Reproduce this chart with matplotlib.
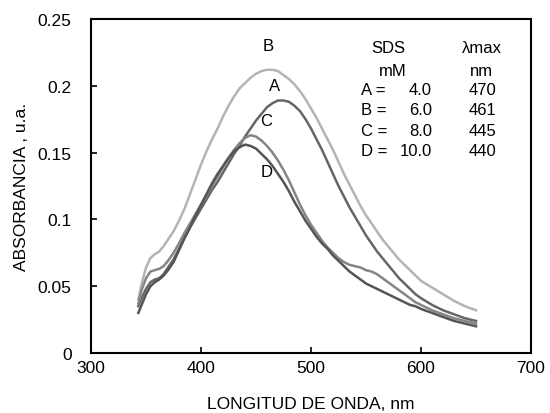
import matplotlib
matplotlib.use("Agg")
import matplotlib.pyplot as plt

plt.rcParams['font.family'] = ['Liberation Sans', 'DejaVu Sans']

# wavelength grid (nm) shared by all spectra
wl = [343, 346, 350, 354, 358, 362, 366, 370, 375, 380, 385, 390, 395, 400,
      405, 410, 415, 420, 425, 430, 435, 440, 445, 450, 455, 460, 465, 470,
      475, 480, 485, 490, 495, 500, 505, 510, 515, 520, 525, 530, 535, 540,
      545, 550, 555, 560, 565, 570, 575, 580, 585, 590, 595, 600, 610, 620,
      630, 640, 650]

abs_A = [0.035, 0.041, 0.048, 0.053, 0.055, 0.056, 0.059, 0.064, 0.070, 0.078,
         0.086, 0.094, 0.101, 0.108, 0.115, 0.122, 0.128, 0.135, 0.142, 0.149,
         0.155, 0.162, 0.168, 0.174, 0.179, 0.184, 0.187, 0.189, 0.189, 0.188,
         0.185, 0.181, 0.175, 0.168, 0.160, 0.152, 0.143, 0.134, 0.125, 0.117,
         0.109, 0.102, 0.095, 0.088, 0.082, 0.076, 0.071, 0.066, 0.061, 0.056,
         0.052, 0.048, 0.044, 0.041, 0.036, 0.032, 0.029, 0.026, 0.024]
abs_B = [0.040, 0.052, 0.064, 0.071, 0.074, 0.076, 0.080, 0.085, 0.091, 0.099,
         0.108, 0.119, 0.130, 0.141, 0.151, 0.160, 0.168, 0.177, 0.185, 0.192,
         0.198, 0.202, 0.206, 0.209, 0.211, 0.212, 0.212, 0.211, 0.208, 0.205,
         0.201, 0.196, 0.190, 0.183, 0.176, 0.168, 0.160, 0.152, 0.143, 0.134,
         0.126, 0.118, 0.110, 0.103, 0.097, 0.091, 0.085, 0.080, 0.075, 0.070,
         0.066, 0.062, 0.058, 0.054, 0.049, 0.044, 0.039, 0.035, 0.032]
abs_C = [0.037, 0.047, 0.056, 0.061, 0.062, 0.063, 0.065, 0.069, 0.075, 0.082,
         0.090, 0.097, 0.104, 0.111, 0.118, 0.125, 0.132, 0.139, 0.146, 0.152,
         0.157, 0.161, 0.163, 0.162, 0.159, 0.155, 0.150, 0.144, 0.137, 0.129,
         0.120, 0.111, 0.103, 0.096, 0.090, 0.084, 0.079, 0.075, 0.071, 0.068,
         0.066, 0.065, 0.064, 0.062, 0.061, 0.059, 0.056, 0.053, 0.050, 0.047,
         0.044, 0.041, 0.038, 0.036, 0.032, 0.029, 0.026, 0.024, 0.022]
abs_D = [0.030, 0.036, 0.044, 0.050, 0.053, 0.055, 0.058, 0.062, 0.068, 0.077,
         0.086, 0.094, 0.103, 0.111, 0.119, 0.127, 0.134, 0.140, 0.146, 0.151,
         0.154, 0.156, 0.155, 0.153, 0.149, 0.145, 0.140, 0.134, 0.128, 0.121,
         0.113, 0.106, 0.099, 0.093, 0.087, 0.082, 0.078, 0.073, 0.069, 0.065,
         0.061, 0.058, 0.055, 0.052, 0.050, 0.048, 0.046, 0.044, 0.042, 0.040,
         0.038, 0.036, 0.035, 0.033, 0.030, 0.027, 0.024, 0.022, 0.020]

labels = ["A", "B", "C", "D"]
sds = ["4.0", "6.0", "8.0", "10.0"]
lmax = ["470", "461", "445", "440"]
colors = {"A": "#666666", "B": "#b4b4b4", "C": "#858585", "D": "#555555"}

fig = plt.figure(figsize=(5.5, 4.14), dpi=100)
ax = fig.add_axes([0.1655, 0.1449, 0.8, 0.8068])

for name, y in zip(labels, [abs_A, abs_B, abs_C, abs_D]):
    ax.plot(wl, y, color=colors[name], lw=1.8)

ax.set_xlim(300, 700)
ax.set_ylim(0, 0.25)
ax.set_xticks([300, 400, 500, 600, 700])
ax.set_yticks([0, 0.05, 0.1, 0.15, 0.2, 0.25])
ax.set_yticklabels(["0", "0.05", "0.1", "0.15", "0.2", "0.25"])
ax.tick_params(direction="in", length=4, width=1.2, labelsize=12.5)
ax.tick_params(axis="x", pad=5)
ax.tick_params(axis="y", pad=14)
for s in ax.spines.values():
    s.set_linewidth(1.5)

ax.set_xlabel("LONGITUD DE ONDA, nm", fontsize=12.5, labelpad=15)
ax.set_ylabel("ABSORBANCIA , u.a.", fontsize=12.5, labelpad=6)

# curve labels
fs = 12
ax.text(461, 0.2298, "B", ha="center", va="center", fontsize=fs)
ax.text(467, 0.1999, "A", ha="center", va="center", fontsize=fs)
ax.text(459, 0.1737, "C", ha="center", va="center", fontsize=fs)
ax.text(460, 0.1362, "D", ha="center", va="center", fontsize=fs)

# inset table
ax.text(570, 0.2283, "SDS", ha="center", va="center", fontsize=fs)
ax.text(574, 0.2118, "mM", ha="center", va="center", fontsize=fs)
ax.text(655, 0.2283, "λmax", ha="center", va="center", fontsize=fs)
ax.text(655, 0.2118, "nm", ha="center", va="center", fontsize=fs)
rows_y = [0.1969, 0.1819, 0.1669, 0.1512]
for lab, c, lm, yy in zip(labels, sds, lmax, rows_y):
    ax.text(545.5, yy, lab + " =", ha="left", va="center", fontsize=fs)
    ax.text(610, yy, c, ha="right", va="center", fontsize=fs)
    ax.text(656, yy, lm, ha="center", va="center", fontsize=fs)

fig.savefig("out.png", dpi=100)
